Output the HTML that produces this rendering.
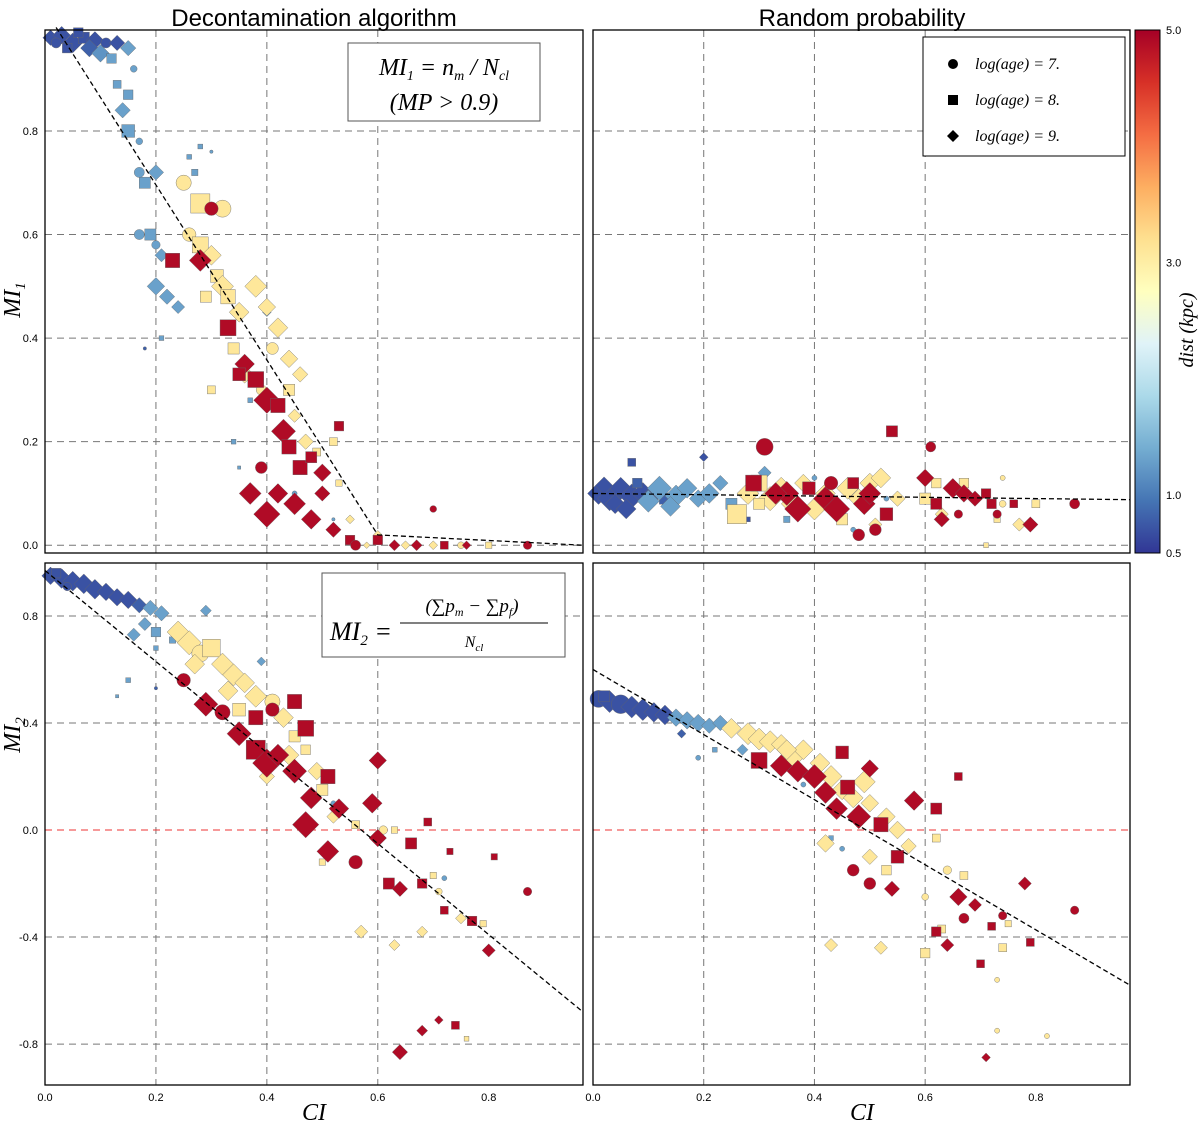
<!DOCTYPE html>
<html><head><meta charset="utf-8"><style>
body{margin:0;background:#fff;width:1200px;height:1130px;overflow:hidden}
svg{display:block}
text{font-family:"Liberation Sans",sans-serif}
.m{font-family:"Liberation Serif",serif;font-style:italic}
</style></head><body>
<svg id="c" width="1200" height="1130"></svg>
<script>
// markers: 0 circle, 1 square, 2 diamond; d = distance kpc; s = size
const tlPoints=[[0.01,0.98,0.7,2,7],[0.03,0.985,0.7,2,8],[0.05,0.97,0.7,2,9],[0.07,0.98,0.7,1,7],[0.09,0.975,0.7,2,8],[0.11,0.97,0.7,0,6],[0.13,0.97,0.7,2,7],[0.04,0.96,0.7,1,6],[0.08,0.96,0.8,2,8],[0.1,0.95,1.2,2,8],[0.02,0.97,0.7,0,6],[0.06,0.99,0.7,1,6],[0.15,0.96,1.3,2,7],[0.12,0.94,1.3,1,6],[0.15,0.87,1.3,1,6],[0.14,0.84,1.3,2,7],[0.15,0.8,1.3,1,8],[0.17,0.78,1.3,0,4],[0.18,0.7,1.3,1,7],[0.17,0.72,1.3,0,6],[0.2,0.72,1.3,2,7],[0.17,0.6,1.3,0,6],[0.19,0.6,1.3,1,7],[0.2,0.58,1.3,0,5],[0.21,0.56,1.3,2,6],[0.2,0.5,1.3,2,8],[0.22,0.48,1.3,2,7],[0.24,0.46,1.3,2,6],[0.16,0.92,1.3,0,4],[0.13,0.89,1.3,1,5],[0.26,0.75,1.3,1,3],[0.28,0.77,1.3,1,3],[0.3,0.76,1.3,0,2],[0.27,0.72,1.3,1,4],[0.21,0.4,1.3,1,3],[0.18,0.38,0.8,0,2],[0.4,0.45,1.3,2,4],[0.37,0.28,1.3,1,3],[0.34,0.2,1.3,1,3],[0.35,0.15,1.3,1,2],[0.45,0.1,1.3,0,3],[0.52,0.05,1.3,0,2],
[0.25,0.7,3.1,0,9],[0.28,0.66,3.1,1,12],[0.32,0.65,3.1,0,10],[0.26,0.6,3.1,0,8],[0.28,0.58,3.1,1,10],[0.3,0.56,3.1,2,9],[0.31,0.52,3.1,1,8],[0.32,0.5,3.1,2,10],[0.33,0.48,3.1,1,9],[0.29,0.48,3.1,1,7],[0.35,0.45,3.1,2,9],[0.38,0.5,3.1,2,10],[0.4,0.46,3.1,2,8],[0.42,0.42,3.1,2,9],[0.41,0.38,3.1,0,7],[0.44,0.36,3.1,2,8],[0.46,0.33,3.1,2,7],[0.44,0.3,3.1,1,7],[0.45,0.25,3.1,2,6],[0.47,0.2,3.1,2,7],[0.49,0.18,3.1,1,5],[0.52,0.2,3.1,1,5],[0.53,0.12,3.1,1,4],[0.55,0.05,3.1,2,4],[0.6,0.02,3.1,2,4],[0.65,0.0,3.1,2,4],[0.7,0.0,3.1,2,4],[0.75,0.0,3.1,0,4],[0.8,0.0,3.1,1,4],[0.34,0.38,3.1,1,7],[0.36,0.33,3.1,2,8],[0.39,0.3,3.1,0,6],[0.3,0.3,3.1,1,5],[0.58,0.0,3.1,2,3],
[0.3,0.65,4.9,0,8],[0.23,0.55,4.9,1,9],[0.28,0.55,4.9,2,10],[0.33,0.42,4.9,1,10],[0.36,0.35,4.9,2,9],[0.38,0.32,4.9,1,10],[0.35,0.33,4.9,1,8],[0.4,0.28,4.9,2,12],[0.42,0.27,4.9,1,9],[0.43,0.22,4.9,2,11],[0.44,0.19,4.9,1,9],[0.39,0.15,4.9,0,7],[0.46,0.15,4.9,1,9],[0.48,0.17,4.9,1,7],[0.5,0.14,4.9,2,8],[0.5,0.1,4.9,2,7],[0.48,0.05,4.9,2,9],[0.45,0.08,4.9,2,10],[0.42,0.1,4.9,2,9],[0.37,0.1,4.9,2,10],[0.4,0.06,4.9,2,12],[0.52,0.03,4.9,2,7],[0.55,0.01,4.9,1,6],[0.6,0.01,4.9,1,6],[0.63,0.0,4.9,2,5],[0.67,0.0,4.9,2,5],[0.72,0.0,4.9,1,5],[0.76,0.0,4.9,2,4],[0.87,0.0,4.9,0,5],[0.7,0.07,4.9,0,4],[0.53,0.23,4.9,1,6],[0.56,0.0,4.9,0,6]];
const trPoints=[[0.01,0.1,0.7,2,10],[0.03,0.09,0.7,2,11],[0.05,0.11,0.7,2,10],[0.07,0.095,0.7,2,11],[0.09,0.1,0.7,2,10],[0.04,0.08,0.7,2,9],[0.02,0.115,0.7,2,8],[0.06,0.07,0.7,2,9],[0.11,0.1,0.8,2,9],[0.13,0.09,0.8,1,7],[0.08,0.12,0.8,1,6],[0.1,0.085,1.3,2,10],[0.12,0.11,1.3,2,11],[0.15,0.095,1.3,2,10],[0.17,0.11,1.3,2,9],[0.19,0.09,1.3,2,8],[0.14,0.075,1.3,2,9],[0.21,0.1,1.3,2,9],[0.23,0.12,1.3,2,7],[0.25,0.08,1.3,1,7],[0.07,0.16,0.7,1,5],[0.2,0.17,0.7,2,4],[0.31,0.14,1.3,2,6],[0.28,0.05,0.7,1,3],[0.4,0.13,1.3,0,3],[0.35,0.05,1.3,1,4],[0.47,0.03,1.3,0,3],[0.53,0.09,1.3,0,3],
[0.26,0.06,3.1,1,12],[0.28,0.1,3.1,2,10],[0.3,0.12,3.1,1,10],[0.32,0.09,3.1,2,11],[0.34,0.11,3.1,2,10],[0.36,0.08,3.1,2,10],[0.38,0.12,3.1,2,8],[0.4,0.07,3.1,2,10],[0.42,0.1,3.1,2,9],[0.46,0.11,3.1,2,10],[0.48,0.09,3.1,2,9],[0.5,0.12,3.1,2,9],[0.52,0.13,3.1,2,9],[0.55,0.09,3.1,2,7],[0.3,0.08,3.1,1,7],[0.51,0.04,3.1,2,6],[0.45,0.05,3.1,1,7],[0.62,0.12,3.1,1,6],[0.67,0.12,3.1,1,6],[0.63,0.06,3.1,2,6],[0.8,0.08,3.1,1,5],[0.74,0.08,3.1,0,4],[0.73,0.05,3.1,1,4],[0.77,0.04,3.1,2,6],[0.6,0.09,3.1,1,7],[0.71,0.0,3.1,1,3],[0.74,0.13,3.1,0,3],
[0.31,0.19,4.9,0,10],[0.29,0.12,4.9,1,10],[0.35,0.1,4.9,2,11],[0.33,0.1,4.9,2,10],[0.37,0.07,4.9,2,12],[0.39,0.11,4.9,1,8],[0.42,0.09,4.9,2,11],[0.43,0.12,4.9,0,8],[0.44,0.07,4.9,2,12],[0.47,0.12,4.9,1,7],[0.49,0.08,4.9,2,10],[0.5,0.1,4.9,2,10],[0.53,0.06,4.9,1,8],[0.51,0.03,4.9,0,7],[0.54,0.22,4.9,1,7],[0.6,0.13,4.9,2,8],[0.62,0.08,4.9,1,7],[0.63,0.05,4.9,2,7],[0.65,0.11,4.9,2,9],[0.67,0.1,4.9,2,8],[0.69,0.09,4.9,2,7],[0.71,0.1,4.9,1,6],[0.72,0.08,4.9,1,6],[0.61,0.19,4.9,0,6],[0.66,0.06,4.9,0,5],[0.76,0.08,4.9,1,5],[0.73,0.06,4.9,0,5],[0.79,0.04,4.9,2,7],[0.87,0.08,4.9,0,6],[0.48,0.02,4.9,0,7]];
const blPoints=[[0.01,0.95,0.7,2,8],[0.03,0.94,0.7,2,9],[0.05,0.93,0.7,2,9],[0.07,0.92,0.7,2,9],[0.09,0.9,0.7,2,9],[0.11,0.89,0.7,2,8],[0.13,0.87,0.7,2,8],[0.15,0.86,0.7,2,8],[0.17,0.84,0.8,2,7],[0.02,0.96,0.7,1,6],[0.04,0.91,0.7,0,5],[0.19,0.83,1.3,2,7],[0.21,0.81,1.3,2,7],[0.18,0.77,1.3,2,6],[0.16,0.73,1.3,2,6],[0.2,0.74,1.3,1,6],[0.2,0.68,1.3,1,3],[0.23,0.71,1.3,1,4],[0.29,0.82,1.3,2,5],[0.39,0.63,1.3,2,4],[0.15,0.56,1.3,1,3],[0.13,0.5,1.3,1,2],[0.2,0.53,0.8,0,2],[0.52,0.1,1.3,0,3],[0.72,-0.18,1.3,0,3],
[0.24,0.74,3.1,2,10],[0.26,0.7,3.1,2,11],[0.28,0.66,3.1,0,10],[0.3,0.68,3.1,1,11],[0.32,0.62,3.1,2,10],[0.27,0.62,3.1,2,9],[0.34,0.58,3.1,2,10],[0.36,0.55,3.1,2,9],[0.38,0.5,3.1,2,10],[0.41,0.48,3.1,0,9],[0.35,0.45,3.1,1,8],[0.43,0.42,3.1,2,9],[0.45,0.35,3.1,1,7],[0.44,0.28,3.1,2,9],[0.47,0.3,3.1,1,6],[0.49,0.22,3.1,2,8],[0.5,0.15,3.1,1,7],[0.52,0.05,3.1,2,6],[0.56,0.02,3.1,1,5],[0.61,0.0,3.1,0,5],[0.63,0.0,3.1,1,4],[0.7,-0.17,3.1,1,4],[0.71,-0.23,3.1,0,4],[0.57,-0.38,3.1,2,6],[0.63,-0.43,3.1,2,5],[0.68,-0.38,3.1,2,5],[0.75,-0.33,3.1,2,5],[0.79,-0.35,3.1,1,4],[0.76,-0.78,3.1,1,3],[0.4,0.2,3.1,2,7],[0.33,0.52,3.1,2,9],[0.5,-0.12,3.1,1,4],
[0.25,0.56,4.9,0,8],[0.29,0.47,4.9,2,11],[0.32,0.44,4.9,0,9],[0.35,0.36,4.9,2,11],[0.38,0.42,4.9,1,9],[0.38,0.3,4.9,1,12],[0.4,0.25,4.9,2,13],[0.42,0.28,4.9,2,10],[0.41,0.45,4.9,0,8],[0.45,0.48,4.9,1,9],[0.47,0.38,4.9,1,10],[0.45,0.22,4.9,2,11],[0.48,0.12,4.9,2,10],[0.51,0.2,4.9,1,9],[0.53,0.08,4.9,2,9],[0.47,0.02,4.9,2,12],[0.51,-0.08,4.9,2,10],[0.56,-0.12,4.9,0,8],[0.59,0.1,4.9,2,9],[0.6,-0.03,4.9,2,8],[0.62,-0.2,4.9,1,7],[0.64,-0.22,4.9,2,7],[0.66,-0.05,4.9,1,7],[0.68,-0.2,4.9,1,6],[0.72,-0.3,4.9,1,5],[0.77,-0.34,4.9,1,6],[0.8,-0.45,4.9,2,6],[0.87,-0.23,4.9,0,5],[0.64,-0.83,4.9,2,7],[0.68,-0.75,4.9,2,5],[0.71,-0.71,4.9,2,4],[0.74,-0.73,4.9,1,5],[0.6,0.26,4.9,2,8],[0.69,0.03,4.9,1,5],[0.73,-0.08,4.9,1,4],[0.81,-0.1,4.9,1,4]];
const brPoints=[[0.01,0.49,0.7,0,10],[0.03,0.48,0.7,2,10],[0.05,0.47,0.7,0,11],[0.07,0.46,0.7,2,10],[0.09,0.45,0.7,2,10],[0.11,0.44,0.7,2,9],[0.13,0.43,0.7,2,9],[0.02,0.5,0.7,1,7],[0.15,0.42,1.3,2,8],[0.17,0.41,1.3,2,8],[0.19,0.4,1.3,2,8],[0.21,0.39,1.3,2,7],[0.23,0.4,1.3,2,7],[0.16,0.36,0.8,2,4],[0.22,0.3,1.3,1,3],[0.19,0.27,1.3,0,3],[0.27,0.3,1.3,2,5],[0.43,-0.03,1.3,1,3],[0.45,-0.07,1.3,0,3],[0.38,0.17,1.3,0,3],
[0.25,0.38,3.1,2,9],[0.28,0.36,3.1,2,10],[0.3,0.34,3.1,2,10],[0.32,0.33,3.1,2,10],[0.34,0.32,3.1,2,9],[0.36,0.27,3.1,2,10],[0.38,0.3,3.1,2,9],[0.41,0.25,3.1,2,9],[0.43,0.2,3.1,2,10],[0.45,0.15,3.1,2,9],[0.47,0.12,3.1,2,9],[0.49,0.18,3.1,2,10],[0.5,0.1,3.1,2,8],[0.53,0.05,3.1,2,8],[0.55,0.0,3.1,2,8],[0.57,-0.06,3.1,2,7],[0.42,-0.05,3.1,2,8],[0.5,-0.1,3.1,2,7],[0.53,-0.15,3.1,1,6],[0.62,-0.03,3.1,1,5],[0.64,-0.15,3.1,0,5],[0.67,-0.17,3.1,1,5],[0.6,-0.25,3.1,0,4],[0.63,-0.37,3.1,1,5],[0.52,-0.44,3.1,2,6],[0.6,-0.46,3.1,1,6],[0.74,-0.44,3.1,1,5],[0.73,-0.56,3.1,0,3],[0.73,-0.75,3.1,0,3],[0.82,-0.77,3.1,0,3],[0.75,-0.35,3.1,1,4],[0.43,-0.43,3.1,2,6],[0.35,0.3,3.1,2,9],
[0.3,0.26,4.9,1,10],[0.34,0.24,4.9,2,10],[0.37,0.22,4.9,2,10],[0.4,0.2,4.9,2,11],[0.42,0.14,4.9,2,10],[0.44,0.08,4.9,2,10],[0.46,0.16,4.9,1,9],[0.48,0.05,4.9,2,11],[0.45,0.29,4.9,1,8],[0.5,0.23,4.9,2,8],[0.52,0.02,4.9,1,9],[0.55,-0.1,4.9,1,8],[0.47,-0.15,4.9,0,7],[0.5,-0.2,4.9,0,7],[0.54,-0.22,4.9,2,7],[0.58,0.11,4.9,2,9],[0.62,0.08,4.9,1,7],[0.66,-0.25,4.9,2,8],[0.62,-0.38,4.9,1,6],[0.64,-0.43,4.9,2,6],[0.67,-0.33,4.9,0,6],[0.69,-0.28,4.9,2,6],[0.72,-0.36,4.9,1,5],[0.74,-0.32,4.9,0,5],[0.78,-0.2,4.9,2,6],[0.87,-0.3,4.9,0,5],[0.71,-0.85,4.9,2,4],[0.7,-0.5,4.9,1,5],[0.79,-0.42,4.9,1,5],[0.66,0.2,4.9,1,5]];
const xTicks=[0.0,0.2,0.4,0.6,0.8];
const topYTicks=[0.0,0.2,0.4,0.6,0.8];
const botYTicks=[-0.8,-0.4,0.0,0.4,0.8];
const cbTicks=[0.5,1.0,3.0,5.0];

const NS='http://www.w3.org/2000/svg';
const svg=document.getElementById('c');
function mk(t,a,p){const e=document.createElementNS(NS,t);for(const k in a)e.setAttribute(k,a[k]);(p||svg).appendChild(e);return e;}
const stops=[[0,[49,54,149]],[0.1,[69,117,180]],[0.2,[116,173,209]],[0.3,[171,217,233]],[0.4,[224,243,248]],[0.5,[255,255,191]],[0.6,[254,224,144]],[0.7,[253,174,97]],[0.8,[244,109,67]],[0.9,[215,48,39]],[1,[165,0,38]]];
function cmap(d){let t=Math.max(0,Math.min(1,(d-0.5)/4.5));for(let i=1;i<stops.length;i++){if(t<=stops[i][0]){const a=stops[i-1],b=stops[i],f=(t-a[0])/(b[0]-a[0]);return 'rgb('+a[1].map((v,j)=>Math.round(v+(b[1][j]-v)*f)).join(',')+')';}}return 'rgb(165,0,38)';}
const XMAX=0.97;
function panel(x0,y0,w,h,ymin,ymax,pts,name){
  const sx=v=>x0+v/XMAX*w, sy=v=>y0+h-(v-ymin)/(ymax-ymin)*h;
  const g=mk('g',{});
  
  
  return {g,sx,sy,x0,y0,w,h};
}
function grid(P,ys){
  [0.2,0.4,0.6].forEach(v=>{const l=mk('line',{x1:P.sx(v),x2:P.sx(v),y1:P.y0,y2:P.y0+P.h,stroke:'#777','stroke-dasharray':'7,5','stroke-width':1},P.g);});
  ys.forEach(v=>{const l=mk('line',{x1:P.x0,x2:P.x0+P.w,y1:P.sy(v),y2:P.sy(v),stroke:v===0&&P.red?'#e33':'#777','stroke-dasharray':'7,5','stroke-width':1},P.g);});
}
function pts(P,arr){
  arr.forEach(p=>{const x=P.sx(p[0]),y=P.sy(p[1]),s=p[4],c=cmap(p[2]);let e;
    if(p[3]===0)e=mk('circle',{cx:x,cy:y,r:s*0.85},P.g);
    else if(p[3]===1)e=mk('rect',{x:x-s*0.8,y:y-s*0.8,width:s*1.6,height:s*1.6},P.g);
    else e=mk('polygon',{points:`${x},${y-s*1.1} ${x+s*1.1},${y} ${x},${y+s*1.1} ${x-s*1.1},${y}`},P.g);
    e.setAttribute('fill',c);e.setAttribute('stroke','#666');e.setAttribute('stroke-width','0.4');
    
    });
}
function line(P,pairs,col){const d=pairs.map((q,i)=>(i?'L':'M')+P.sx(q[0])+','+P.sy(q[1])).join('');const l=mk('path',{d,stroke:col||'#000','stroke-dasharray':'5,3',fill:'none','stroke-width':1.3},P.g);}
function frame(P){const r=mk('rect',{x:P.x0,y:P.y0,width:P.w,height:P.h,fill:'none',stroke:'#000','stroke-width':1.3},P.g);}
function ylabels(P,ticks){ticks.forEach(v=>{const t=mk('text',{x:P.x0-7,y:P.sy(v)+4,'text-anchor':'end','font-size':11},svg);t.textContent=(v<0?'-':'')+Math.abs(v).toFixed(1);});}
function xlabels(P){xTicks.forEach(v=>{const t=mk('text',{x:P.sx(v),y:P.y0+P.h+16,'text-anchor':'middle','font-size':11},svg);t.textContent=v.toFixed(1);});}

const TL=panel(45,30,538,523,-0.015,0.995,tlPoints,'panel-mi1-decontamination');
grid(TL,topYTicks);pts(TL,tlPoints);line(TL,[[0.02,1.0],[0.6,0.02],[0.97,0.0]]);frame(TL);ylabels(TL,topYTicks);
const TR=panel(593,30,537,523,-0.015,0.995,trPoints,'panel-mi1-random');
grid(TR,topYTicks);pts(TR,trPoints);line(TR,[[0,0.1],[0.97,0.088]]);frame(TR);
const BL=panel(45,563,538,522,-0.953,0.998,blPoints,'panel-mi2-decontamination');BL.red=true;
grid(BL,botYTicks);pts(BL,blPoints);line(BL,[[0.0,0.97],[0.97,-0.68]]);frame(BL);ylabels(BL,botYTicks);xlabels(BL);
const BR=panel(593,563,537,522,-0.953,0.998,brPoints,'panel-mi2-random');BR.red=true;
grid(BR,botYTicks);pts(BR,brPoints);line(BR,[[0.0,0.6],[0.97,-0.58]]);frame(BR);xlabels(BR);

const defs=mk('defs',{});const lg=mk('linearGradient',{id:'cg',x1:0,y1:1,x2:0,y2:0},defs);
stops.forEach(s=>mk('stop',{offset:s[0],'stop-color':'rgb('+s[1].join(',')+')'},lg));
const cb=mk('rect',{x:1135,y:30,width:25,height:523,fill:'url(#cg)',stroke:'#000','stroke-width':1});

cbTicks.forEach(v=>{const y=553-(v-0.5)/4.5*523;const t=mk('text',{x:1166,y:y+4,'font-size':11});t.textContent=v.toFixed(1);});
</script>
<svg style="position:absolute;left:0;top:0" width="1200" height="1130">
<text x="314" y="26" text-anchor="middle" font-size="24">Decontamination algorithm</text>
<text x="862" y="26" text-anchor="middle" font-size="24">Random probability</text>
<text class="m" transform="translate(20,300) rotate(-90)" text-anchor="middle" font-size="24">MI<tspan font-size="15" dy="5">1</tspan></text>
<text class="m" transform="translate(20,735) rotate(-90)" text-anchor="middle" font-size="24">MI<tspan font-size="15" dy="5">2</tspan></text>
<text class="m" x="314" y="1120" text-anchor="middle" font-size="24">CI</text>
<text class="m" x="862" y="1120" text-anchor="middle" font-size="24">CI</text>
<text class="m" transform="translate(1193,330) rotate(-90)" text-anchor="middle" font-size="20">dist  (kpc)</text>
<g>
<rect x="348" y="43" width="192" height="78" fill="#fff" stroke="#555"/>
<text class="m" x="444" y="75" text-anchor="middle" font-size="24">MI<tspan font-size="14" dy="5">1</tspan><tspan dy="-5"> = n</tspan><tspan font-size="14" dy="5">m</tspan><tspan dy="-5"> / N</tspan><tspan font-size="14" dy="5">cl</tspan></text>
<text class="m" x="444" y="110" text-anchor="middle" font-size="24">(MP &gt; 0.9)</text>
</g>
<g>
<rect x="322" y="573" width="243" height="84" fill="#fff" stroke="#555"/>
<text class="m" x="330" y="640" font-size="26">MI<tspan font-size="15" dy="5">2</tspan><tspan dy="-5"> =</tspan></text>
<text class="m" x="472" y="612" text-anchor="middle" font-size="19">(∑p<tspan font-size="12" dy="4">m</tspan><tspan dy="-4"> − ∑p</tspan><tspan font-size="12" dy="4">f</tspan><tspan dy="-4">)</tspan></text>
<line x1="400" x2="548" y1="623" y2="623" stroke="#000"/>
<text class="m" x="474" y="647" text-anchor="middle" font-size="16">N<tspan font-size="11" dy="4">cl</tspan></text>
</g>
<g>
<rect x="923" y="37" width="202" height="119" fill="#fff" stroke="#000"/>
<circle cx="953" cy="64" r="5" fill="#000"/>
<rect x="948" y="95" width="10" height="10" fill="#000"/>
<polygon points="953,130 959,136 953,142 947,136" fill="#000"/>
<text class="m" x="975" y="69" font-size="16">log(age) = 7.</text>
<text class="m" x="975" y="105" font-size="16">log(age) = 8.</text>
<text class="m" x="975" y="141" font-size="16">log(age) = 9.</text>
</g>
</svg>
</body></html>
